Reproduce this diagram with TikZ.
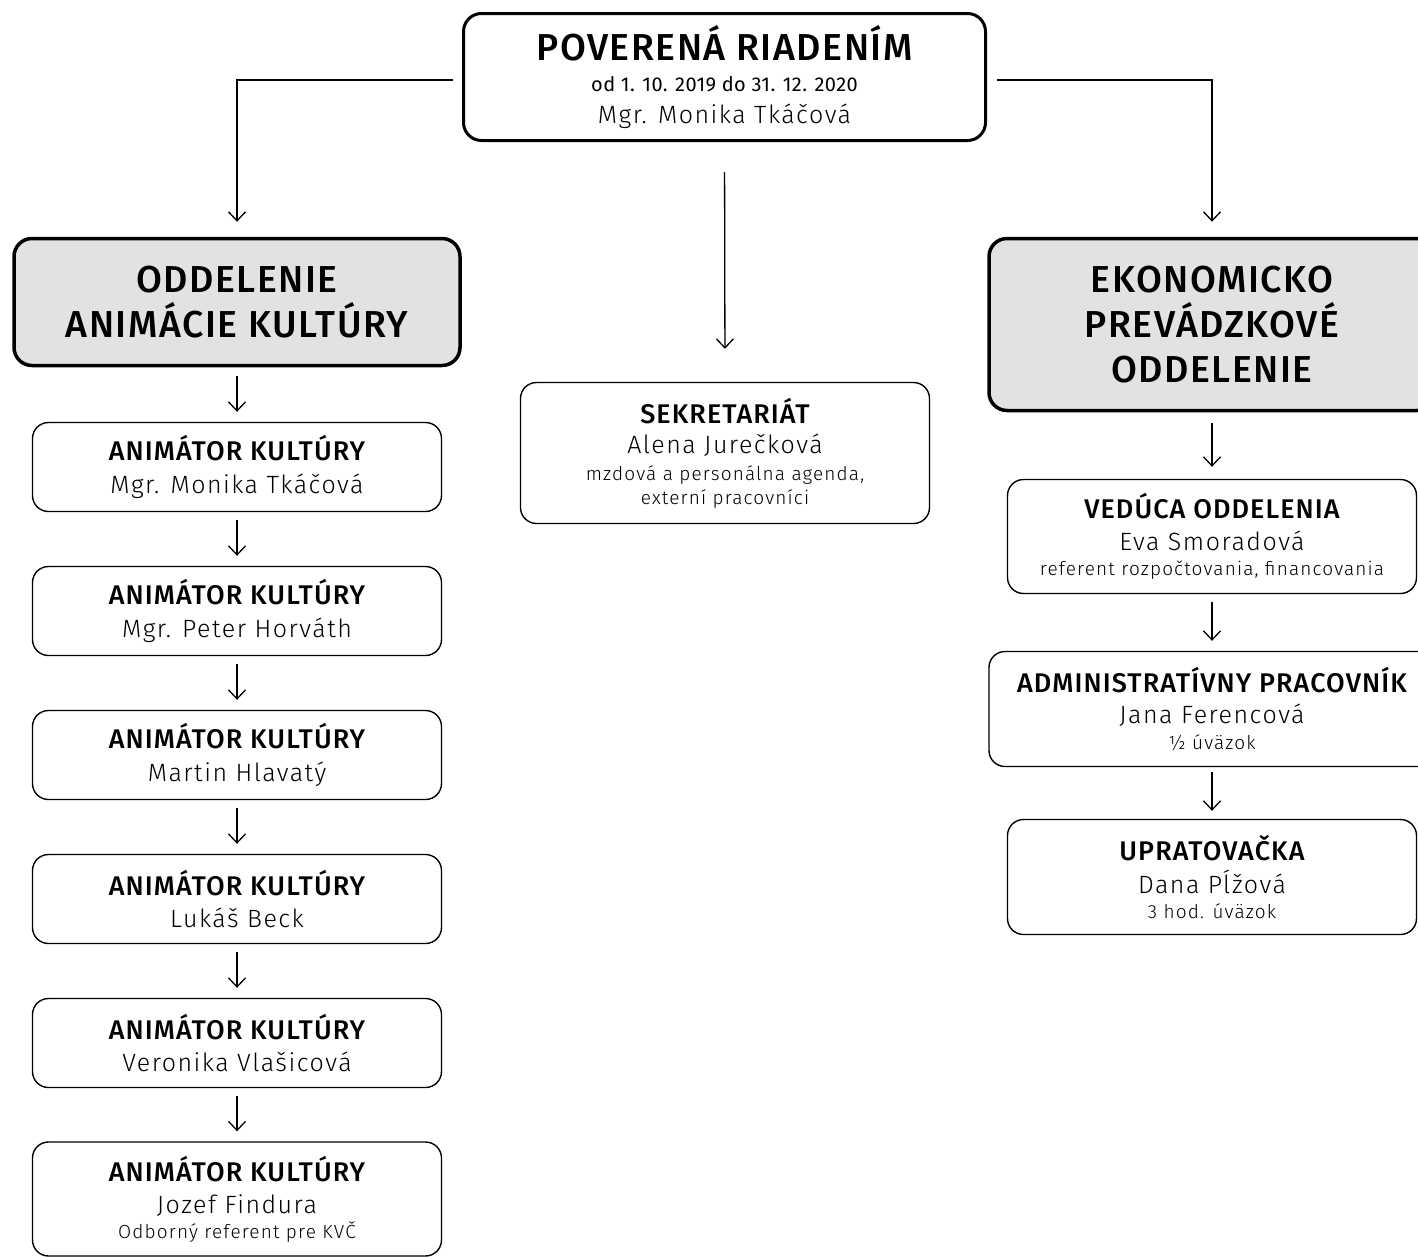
\documentclass[tikz,border=0pt]{standalone}
\usepackage{fontspec}
\setmainfont{Fira Sans}[LetterSpace=2]
\newfontfamily\lightfont{Fira Sans Light}[LetterSpace=6]
\newfontfamily\medfont{Fira Sans Medium}[LetterSpace=4]
\usetikzlibrary{arrows.meta}
\definecolor{deptgray}{HTML}{E2E2E2}
% text pieces
\newcommand{\ttl}[1]{{\medfont\fontsize{27}{31}\selectfont #1}}
\newcommand{\who}[1]{{\lightfont\fontsize{25}{31}\selectfont #1}}
\newcommand{\note}[1]{{\lightfont\fontsize{19}{24}\selectfont #1}}
\begin{document}
\begin{tikzpicture}[x=1pt, y=-1pt,
		every node/.style={align=center, inner sep=0pt},
		boss/.style={draw, line width=3pt, rounded corners=18pt, minimum width=522pt, minimum height=127pt, font=\fontsize{17}{24}\selectfont},
		dept/.style={draw, line width=3.5pt, rounded corners=18pt, fill=deptgray, minimum width=446pt, font=\medfont\fontsize{37.5}{45}\selectfont},
		post/.style={draw, line width=1.4pt, rounded corners=16pt, minimum width=409pt, minimum height=89pt, font=\fontsize{17}{24}\selectfont},
		link/.style={line width=1.3pt, -{Straight Barb[length=9pt, width=17pt]}}
	]
	\clip (0,0) rectangle (1418,1256);
	% head of the office
	\node[boss] (boss) at (724.5,77) {{\medfont\fontsize{37.5}{45}\selectfont POVERENÁ RIADENÍM}\\[7pt]
		{\fontsize{20}{24}\selectfont od 1. 10. 2019 do 31. 12. 2020}\\[7.7pt]
		\who{Mgr. Monika Tkáčová}};
	% departments
	\node[dept, minimum height=127pt] (dept_l) at (237,302) {ODDELENIE\\ANIMÁCIE KULTÚRY};
	\node[dept, minimum height=172pt] (dept_r) at (1212,324.5) {EKONOMICKO\\PREVÁDZKOVÉ\\ODDELENIE};
	\node[post, minimum height=141pt] (sek) at (725,453) {\ttl{SEKRETARIÁT}\\[6.3pt]
		\who{Alena Jurečková}\\[2.9pt]
		\note{mzdová a personálna agenda,}\\
		\note{externí pracovníci}};
	% animators
	\def\names {Mgr. Monika Tkáčová, Mgr. Peter Horváth, Martin Hlavatý, Lukáš Beck, Veronika Vlašicová};
	\foreach \name [count=\index] in \names
	{
		\node[post] (anim_\index) at (237, 467 + 144 * \index - 144) {\ttl{ANIMÁTOR KULTÚRY}\\[8.3pt]\who{\name}};
	}
	\node[post, minimum height=114pt] (anim_6) at (237,1199) {\ttl{ANIMÁTOR KULTÚRY}\\[8.3pt]
		\who{Jozef Findura}\\[1pt]
		\note{Odborný referent pre KVČ}};
	% economy staff
	\node[post, minimum height=114pt] (eko_1) at (1212,536.5) {\ttl{VEDÚCA ODDELENIA}\\[8.3pt]
		\who{Eva Smoradová}\\[1pt]
		\note{referent rozpočtovania, financovania}};
	\node[post, minimum width=446pt, minimum height=115pt] (eko_2) at (1212,709) {\ttl{ADMINISTRATÍVNY PRACOVNÍK}\\[7.3pt]
		\who{Jana Ferencová}\\[2pt]
		\note{½ úväzok}};
	\node[post, minimum height=115pt] (eko_3) at (1212,877) {\ttl{UPRATOVAČKA}\\[8.3pt]
		\who{Dana Pĺžová}\\[1pt]
		\note{3 hod. úväzok}};
	% edges
	\draw[link, shorten >=15pt] ([shift={(-9,3)}]boss.west) -| (dept_l.north);
	\draw[link, shorten >=15pt] ([shift={(10,3)}]boss.east) -| (dept_r.north);
	\draw[link, shorten <=30pt, shorten >=33pt] (boss.south) -- (sek.north);
	\draw[link, shorten <=9pt, shorten >=10pt] (dept_l.south) -- (anim_1.north);
	\draw[link, shorten <=8pt, shorten >=10pt] (anim_1.south) -- (anim_2.north);
	\draw[link, shorten <=8pt, shorten >=10pt] (anim_2.south) -- (anim_3.north);
	\draw[link, shorten <=8pt, shorten >=10pt] (anim_3.south) -- (anim_4.north);
	\draw[link, shorten <=8pt, shorten >=10pt] (anim_4.south) -- (anim_5.north);
	\draw[link, shorten <=8pt, shorten >=10pt] (anim_5.south) -- (anim_6.north);
	\draw[link, shorten <=11pt, shorten >=12pt] (dept_r.south) -- (eko_1.north);
	\draw[link, shorten <=8pt, shorten >=10pt] (eko_1.south) -- (eko_2.north);
	\draw[link, shorten <=5pt, shorten >=8pt] (eko_2.south) -- (eko_3.north);
\end{tikzpicture}
\end{document}
